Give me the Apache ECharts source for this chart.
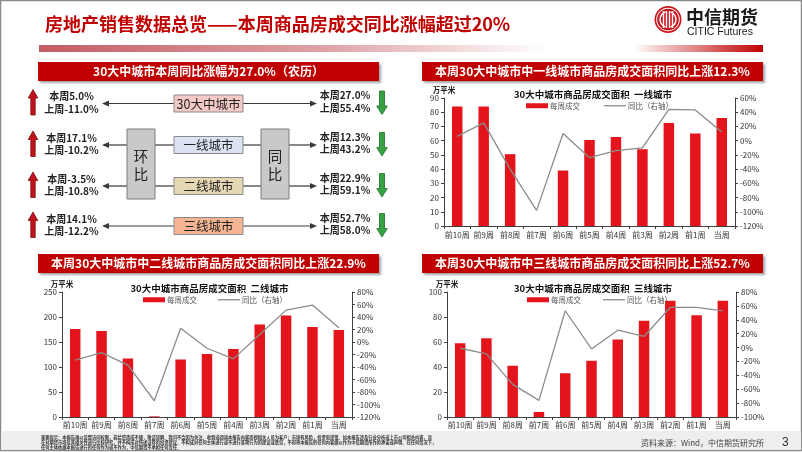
<!DOCTYPE html>
<html>
<head>
<meta charset="utf-8">
<script src="https://cdn.jsdelivr.net/npm/echarts@6/dist/echarts.min.js"></script>
<style>
  html, body { margin: 0; padding: 0; background: #fff; }
  #slide { width: 802px; height: 452px; }
</style>
</head>
<body>
<div id="slide"></div>
<script>
  // weekly data
  const weeks = ['前10周', '前9周', '前8周', '前7周', '前6周', '前5周', '前4周', '前3周', '前2周', '前1周', '当周'];
  const tier1Area = [84, 84, 50.5, 0, 39, 60.5, 62.5, 54, 72.5, 65, 76];
  const tier1Yoy = [6, 25, -40, -98, 10, -24, -14, -10, 44, 43.2, 12.3];
  const tier2Area = [176, 172, 117, 1.3, 115, 126, 136, 185, 203, 180, 174];
  const tier2Yoy = [-29, -17, -37, -94, 22, -10, -27, 12, 51, 59.1, 22.9];
  const tier3Area = [59, 63, 41, 4, 35, 45, 62, 77, 93, 81.5, 93];
  const tier3Yoy = [-1, -9, -53, -76, 53, -2, 25, 16, 58, 58.0, 52.7];

  // summary diagram
  const cityNames = ['30大中城市', '一线城市', '二线城市', '三线城市'];
  const momThis = ['5.0%', '17.1%', '-3.5%', '14.1%'];
  const momLast = ['-11.0%', '-10.2%', '-10.8%', '-12.2%'];
  const yoyThis = ['27.0%', '12.3%', '22.9%', '52.7%'];
  const yoyLast = ['55.4%', '43.2%', '59.1%', '58.0%'];

  const FONT = '"Noto Sans CJK SC", "Noto Sans", sans-serif';
  const RED = '#c00000';
  const BAR_RED = '#e3141b';
  const LINE_GRAY = '#8c8c8c';

  const chart = echarts.init(document.getElementById('slide'), null, { renderer: 'canvas' });

  const g = [];
  const txt = (text, x, y, size, opts) => {
    opts = opts || {};
    g.push({
      type: 'text', z: 10,
      style: {
        text: text, x: x, y: y,
        font: (opts.weight || 'normal') + ' ' + size + 'px ' + (opts.family || FONT),
        fill: opts.color || '#222',
        textAlign: opts.align || 'left',
        textVerticalAlign: 'middle'
      }
    });
  };
  const line = (x1, y1, x2, y2, color, w) => {
    g.push({ type: 'line', shape: { x1: x1, y1: y1, x2: x2, y2: y2 }, style: { stroke: color, lineWidth: w } });
  };

  // slide frame + header
  g.push({ type: 'rect', shape: { x: 0.5, y: 0.5, width: 801, height: 450 }, style: { fill: 'none', stroke: '#8a8a8a', lineWidth: 1.5 } });
  txt('房地产销售数据总览——本周商品房成交同比涨幅超过20%', 45, 24, 18, { weight: 'bold', color: RED });
  g.push({
    type: 'rect', shape: { x: 39, y: 45, width: 724, height: 7 },
    style: {
      fill: new echarts.graphic.LinearGradient(0, 0, 1, 0, [
        { offset: 0, color: '#c45c63' },
        { offset: 0.4, color: '#dfa4a8' },
        { offset: 0.7, color: '#ffffff' },
        { offset: 0.82, color: '#ffffff' },
        { offset: 1, color: RED }
      ])
    }
  });

  // logo
  g.push({ type: 'circle', shape: { cx: 668, cy: 19.5, r: 13.5 }, style: { fill: '#c8161d' } });
  g.push({ type: 'ring', shape: { cx: 668, cy: 19.5, r: 11.8, r0: 10.8 }, style: { fill: '#fff' } });
  [-4.5, -1.5, 1.5, 4.5].forEach(dx => {
    g.push({ type: 'rect', shape: { x: 668 + dx - 0.7, y: 11, width: 1.4, height: 17 }, style: { fill: '#fff' } });
  });
  g.push({ type: 'arc', shape: { cx: 668, cy: 19.5, r: 8, startAngle: Math.PI * 0.6, endAngle: Math.PI * 1.4 }, style: { stroke: '#fff', lineWidth: 1.4, fill: 'none' } });
  g.push({ type: 'arc', shape: { cx: 668, cy: 19.5, r: 8, startAngle: -Math.PI * 0.4, endAngle: Math.PI * 0.4 }, style: { stroke: '#fff', lineWidth: 1.4, fill: 'none' } });
  txt('中信期货', 686, 17, 18, { weight: 'bold', color: '#1a1a1a' });
  txt('CITIC Futures', 687, 32.5, 10.5, { color: '#1a1a1a', family: '"Liberation Sans", Arial, sans-serif' });

  // red section headers
  const header = (x, y, w, text, size) => {
    g.push({
      type: 'rect', shape: { x: x, y: y, width: w, height: 19 },
      style: { fill: RED, shadowBlur: 2, shadowOffsetX: 1.5, shadowOffsetY: 1.5, shadowColor: 'rgba(0,0,0,0.35)' }
    });
    txt(text, x + w / 2, y + 9.8, size, { weight: 'bold', color: '#fff', align: 'center' });
  };
  header(38, 62, 341, '30大中城市本周同比涨幅为27.0%（农历）', 12);
  header(422, 62, 341, '本周30大中城市中一线城市商品房成交面积同比上涨12.3%', 12);
  header(38, 254, 341, '本周30大中城市中二线城市商品房成交面积同比上涨22.9%', 12);
  header(422, 254, 341, '本周30大中城市中三线城市商品房成交面积同比上涨52.7%', 12);

  // summary diagram
  const rowY = [103.5, 145, 186, 226];
  const boxFill = ['#f6c9c9', '#dbe3f2', '#e7d8b4', '#f5b592'];
  const ARROW = '#3a3a3a';
  const arrowHead = (tipX, y, dir) => {
    g.push({ type: 'polygon', shape: { points: [[tipX, y], [tipX - dir * 7, y - 3], [tipX - dir * 7, y + 3]] }, style: { fill: ARROW } });
  };
  rowY.forEach((y, i) => {
    const inner = i === 1 || i === 2;
    line(inner ? 127 : 174, y, 104, y, ARROW, 1.2);
    arrowHead(102, y, -1);
    line(inner ? 289 : 243, y, 315, y, ARROW, 1.2);
    arrowHead(317, y, 1);
    if (inner) {
      line(155, y, 174, y, ARROW, 1.2);
      line(243, y, 261, y, ARROW, 1.2);
    }
  });
  // 环比 / 同比 boxes
  [[127, '环', '比'], [261, '同', '比']].forEach(b => {
    g.push({ type: 'rect', shape: { x: b[0], y: 129, width: 28, height: 70 }, style: { fill: '#c9c9c9', stroke: '#7a7a7a', lineWidth: 1 } });
    txt(b[1], b[0] + 14, 156, 14.5, { align: 'center', color: '#222' });
    txt(b[2], b[0] + 14, 174, 14.5, { align: 'center', color: '#222' });
  });
  rowY.forEach((y, i) => {
    g.push({ type: 'rect', shape: { x: 174, y: y - 8.5, width: 69, height: 17 }, style: { fill: boxFill[i], stroke: '#8a8a8a', lineWidth: 1 } });
    txt(cityNames[i], 208.5, y + 0.5, 12.5, { align: 'center', color: '#222' });
    txt('本周' + momThis[i], 71.5, y - 7, 10, { weight: 'bold', align: 'center' });
    txt('上周' + momLast[i], 71.5, y + 5.5, 10, { weight: 'bold', align: 'center' });
    txt('本周' + yoyThis[i], 345, y - 8, 10, { weight: 'bold', align: 'center' });
    txt('上周' + yoyLast[i], 345, y + 4.5, 10, { weight: 'bold', align: 'center' });
    // red up arrow on the left, green down arrow on the right
    const t = y - 14, b = y + 11.5;
    g.push({
      type: 'polygon',
      shape: { points: [[33, t], [37.8, t + 8.5], [35.2, t + 8.5], [35.2, b], [30.8, b], [30.8, t + 8.5], [28.2, t + 8.5]] },
      style: { fill: '#c0141c', stroke: '#7d0a0f', lineWidth: 0.8 }
    });
    const t2 = y - 12.5, b2 = y + 11;
    g.push({
      type: 'polygon',
      shape: { points: [[382, b2], [387.3, b2 - 8.5], [384.5, b2 - 8.5], [384.5, t2], [379.5, t2], [379.5, b2 - 8.5], [376.7, b2 - 8.5]] },
      style: { fill: '#36a043', stroke: '#24702c', lineWidth: 0.8 }
    });
  });

  // chart titles
  txt('30大中城市商品房成交面积  一线城市', 593, 94, 9.5, { weight: 'bold', align: 'center', color: '#111' });
  txt('30大中城市商品房成交面积  二线城市', 209.5, 288, 9.5, { weight: 'bold', align: 'center', color: '#111' });
  txt('30大中城市商品房成交面积  三线城市', 593, 288, 9.5, { weight: 'bold', align: 'center', color: '#111' });

  // footer
  g.push({ type: 'rect', shape: { x: 1, y: 431, width: 800, height: 19 }, style: { fill: '#eeeeee' } });
  txt('重要提示：本报告难以设置访问权限，若给您造成不便，敬请谅解。我司不会因为关注、收到或阅读本报告内容而视相关人员为客户；市场有风险，投资需谨慎。如本报告涉及行业分析或上市公司相关内容，旨', 41, 437, 4.25, { weight: 'bold', color: '#333' });
  txt('在对期货市场及其相关性进行比较研究，并不构成对所述证券的投资建议。不构成对任何主体进行或不进行某项行为的建议或意见，不得将本报告的任何内容据以作为中信期货所作的承诺或声明。在任何情况下，', 41, 442, 4.25, { weight: 'bold', color: '#333' });
  txt('任何主体依据本报告进行的任何作为或不作为，中信期货不承担任何责任。', 41, 447, 4.25, { weight: 'bold', color: '#333' });
  txt('资料来源：Wind，中信期货研究所', 641, 443, 8, { color: '#444' });
  txt('3', 782, 442.5, 12, { color: '#333', family: '"Liberation Sans", Arial, sans-serif' });

  // chart axes
  const AX = '#404040';
  const xAxisOf = (gi, margin) => ({
    type: 'category', gridIndex: gi, data: weeks,
    axisLine: { lineStyle: { color: AX, width: 1 } },
    axisTick: { show: true, length: 3, lineStyle: { color: AX } },
    axisLabel: { fontSize: 8, color: '#333', margin: margin, interval: 0 }
  });
  const leftAxis = (gi, max, interval) => ({
    type: 'value', gridIndex: gi, min: 0, max: max, interval: interval,
    name: '万平米', nameLocation: 'end', nameGap: 4,
    nameTextStyle: { fontSize: 7.5, fontWeight: 'bold', color: '#222', align: 'center' },
    axisLine: { show: true, lineStyle: { color: AX } },
    axisTick: { show: true, length: 3, lineStyle: { color: AX } },
    splitLine: { show: false },
    axisLabel: { fontSize: 8, color: '#333', margin: 5 }
  });
  const rightAxis = (gi, min, max) => ({
    type: 'value', gridIndex: gi, position: 'right', min: min, max: max, interval: 20,
    axisLine: { show: true, lineStyle: { color: AX } },
    axisTick: { show: true, length: 3, lineStyle: { color: AX } },
    splitLine: { show: false },
    axisLabel: { fontSize: 8, color: '#333', margin: 5, formatter: '{value}%' }
  });
  const barSeries = (gi, data) => ({
    name: '每周成交', type: 'bar', xAxisIndex: gi, yAxisIndex: gi * 2, data: data,
    barWidth: 10.5, itemStyle: { color: BAR_RED }
  });
  const lineSeries = (gi, data) => ({
    name: '同比（右轴）', type: 'line', xAxisIndex: gi, yAxisIndex: gi * 2 + 1, data: data,
    symbol: 'none', lineStyle: { color: LINE_GRAY, width: 1.3 }, itemStyle: { color: LINE_GRAY }
  });
  // one legend per item so the line key can be a thin stroke
  const legendAt = (left, top, name, h) => ({
    left: left, top: top, orient: 'horizontal',
    itemWidth: 22, itemHeight: h,
    textStyle: { fontSize: 7.5, color: '#555', padding: [0, 0, 0, -3] },
    data: [{ name: name, icon: 'rect' }],
    selectedMode: false
  });

  const option = {
    animation: false,
    textStyle: { fontFamily: FONT },
    graphic: g,
    grid: [
      { left: 444, top: 98, width: 291, height: 128 },
      { left: 62, top: 292, width: 290, height: 125 },
      { left: 447, top: 292, width: 289, height: 125 }
    ],
    legend: [
      legendAt(521, 97, '每周成交', 5), legendAt(599, 97, '同比（右轴）', 1.3),
      legendAt(138, 291, '每周成交', 5), legendAt(213, 291, '同比（右轴）', 1.3),
      legendAt(522, 291, '每周成交', 5), legendAt(598, 291, '同比（右轴）', 1.3)
    ],
    xAxis: [xAxisOf(0, 5), xAxisOf(1, 4), xAxisOf(2, 4)],
    yAxis: [
      leftAxis(0, 90, 10), rightAxis(0, -120, 60),
      leftAxis(1, 250, 50), rightAxis(1, -120, 80),
      leftAxis(2, 100, 20), rightAxis(2, -100, 80)
    ],
    series: [
      barSeries(0, tier1Area), lineSeries(0, tier1Yoy),
      barSeries(1, tier2Area), lineSeries(1, tier2Yoy),
      barSeries(2, tier3Area), lineSeries(2, tier3Yoy)
    ]
  };

  chart.setOption(option);
  window.addEventListener('resize', () => chart.resize());
</script>
</body>
</html>
